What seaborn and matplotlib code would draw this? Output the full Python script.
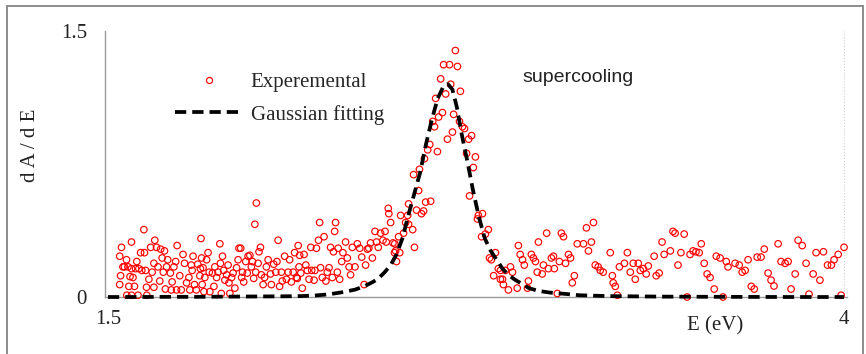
import matplotlib
matplotlib.use("Agg")
import matplotlib.pyplot as plt
from matplotlib.lines import Line2D
from matplotlib.patches import Rectangle
import seaborn as sns
import pandas as pd

# ---------------- data ----------------
exp_x_1 = [1.540, 1.546, 1.551, 1.543, 1.540, 1.563, 1.556, 1.568, 1.575, 1.571, 1.564, 1.580, 1.585, 1.590,
           1.580, 1.594, 1.598, 1.605, 1.611, 1.615, 1.622, 1.624, 1.628, 1.631, 1.602, 1.580, 1.632, 1.639,
           1.645, 1.650, 1.656, 1.659, 1.665, 1.656, 1.670, 1.676, 1.679, 1.684, 1.688, 1.692, 1.695, 1.699,
           1.703, 1.712, 1.718, 1.715, 1.724, 1.730, 1.735, 1.733, 1.744, 1.749, 1.755, 1.760, 1.767, 1.775,
           1.778, 1.783, 1.786, 1.789, 1.794, 1.800, 1.805, 1.812, 1.816, 1.814, 1.820]
exp_y_1 = [0.23, 0.28, 0.17, 0.12, 0.07, 0.21, 0.17, 0.17, 0.115, 0.06, 0.01, 0.31, 0.11, 0.06,
           0.16, 0.16, 0.20, 0.16, 0.25, 0.15, 0.38, 0.25, 0.15, 0.055, 0.01, 0.01, 0.01, 0.10,
           0.28, 0.14, 0.055, 0.32, 0.28, 0.19, 0.17, 0.09, 0.27, 0.22, 0.14, 0.26, 0.045, 0.17,
           0.21, 0.135, 0.085, 0.04, 0.17, 0.20, 0.29, 0.04, 0.12, 0.04, 0.24, 0.19, 0.08, 0.11,
           0.04, 0.18, 0.15, 0.23, 0.07, 0.04, 0.185, 0.12, 0.33, 0.16, 0.07]

exp_x_2 = [1.818, 1.823, 1.829, 1.826, 1.835, 1.840, 1.844, 1.846, 1.855, 1.860, 1.863, 1.869, 1.874, 1.880,
           1.882, 1.889, 1.885, 1.893, 1.897, 1.903, 1.908, 1.911, 1.914, 1.920, 1.925, 1.931, 1.937, 1.942,
           1.945, 1.951, 1.954, 1.957, 1.961, 1.968, 1.973, 1.976, 1.982, 1.987, 1.991, 1.995, 1.999, 2.004,
           2.002, 2.010, 2.013, 2.018, 2.021, 2.027, 2.032, 2.038, 2.044, 2.052, 2.055, 2.063, 2.070, 2.078,
           2.074, 2.083, 2.089, 2.092, 2.100, 2.106, 2.112, 2.117, 2.123, 2.129, 2.134, 2.140, 2.146, 2.149]
exp_y_2 = [0.22, 0.165, 0.11, 0.03, 0.21, 0.25, 0.14, 0.03, 0.135, 0.06, 0.17, 0.11, 0.14, 0.30,
           0.19, 0.23, 0.02, 0.15, 0.095, 0.125, 0.18, 0.08, 0.02, 0.11, 0.135, 0.05, 0.165, 0.21,
           0.275, 0.275, 0.11, 0.14, 0.085, 0.20, 0.135, 0.23, 0.235, 0.17, 0.20, 0.105, 0.41, 0.53,
           0.14, 0.19, 0.255, 0.28, 0.125, 0.07, 0.11, 0.17, 0.21, 0.13, 0.07, 0.185, 0.14, 0.32,
           0.20, 0.06, 0.14, 0.09, 0.23, 0.10, 0.14, 0.21, 0.085, 0.14, 0.25, 0.11, 0.29, 0.17]

exp_x_3 = [2.143, 2.151, 2.155, 2.160, 2.166, 2.172, 2.177, 2.183, 2.189, 2.192, 2.200, 2.203, 2.208, 2.215,
           2.219, 2.222, 2.228, 2.234, 2.240, 2.245, 2.251, 2.256, 2.262, 2.266, 2.270, 2.273, 2.279, 2.282,
           2.287, 2.294, 2.298, 2.307, 2.313, 2.319, 2.324, 2.330, 2.339, 2.347, 2.355, 2.362, 2.370, 2.375,
           2.381, 2.386, 2.392, 2.398, 2.407, 2.412, 2.418, 2.426, 2.434, 2.441, 2.445, 2.452, 2.454, 2.460,
           2.468, 2.473]
exp_y_3 = [0.105, 0.235, 0.135, 0.05, 0.24, 0.18, 0.15, 0.10, 0.28, 0.15, 0.095, 0.15, 0.275, 0.32,
           0.42, 0.165, 0.11, 0.34, 0.09, 0.14, 0.165, 0.28, 0.11, 0.255, 0.37, 0.42, 0.14, 0.275,
           0.10, 0.20, 0.25, 0.31, 0.22, 0.17, 0.125, 0.28, 0.17, 0.30, 0.275, 0.225, 0.07, 0.18,
           0.27, 0.275, 0.305, 0.22, 0.37, 0.31, 0.28, 0.36, 0.32, 0.37, 0.31, 0.50, 0.47, 0.42,
           0.305, 0.25]

exp_x_4 = [2.680, 2.640, 2.660, 2.687, 2.630, 2.664, 2.697, 2.647, 2.613, 2.636, 2.623, 2.674, 2.694, 2.603,
           2.609, 2.704, 2.711, 2.735, 2.670, 2.653, 2.725, 2.593, 2.586, 2.619, 2.718, 2.748, 2.575, 2.741,
           2.558, 2.538, 2.555, 2.728, 2.596, 2.579, 2.521, 2.548, 2.572, 2.565, 2.772, 2.758, 2.755, 2.494,
           2.518, 2.511, 2.521, 2.535, 2.792, 2.769, 2.782, 2.487, 2.504, 2.474, 2.541, 2.491, 2.477, 2.816,
           2.796, 2.802, 2.480, 2.826, 2.810, 2.833]
exp_y_4 = [1.39, 1.31, 1.31, 1.30, 1.23, 1.20, 1.16, 1.145, 1.12, 1.04, 1.015, 1.03, 0.99, 0.99,
           0.96, 0.96, 0.95, 0.91, 0.93, 0.89, 0.89, 0.86, 0.83, 0.82, 0.81, 0.79, 0.78, 0.73,
           0.72, 0.69, 0.60, 0.57, 0.54, 0.535, 0.525, 0.49, 0.485, 0.47, 0.47, 0.46, 0.44, 0.46,
           0.46, 0.42, 0.41, 0.38, 0.38, 0.34, 0.355, 0.34, 0.36, 0.30, 0.28, 0.25, 0.26, 0.25,
           0.22, 0.21, 0.20, 0.16, 0.12, 0.10]

exp_x_5 = [2.833, 2.850, 2.867, 2.874, 2.894, 2.900, 2.908, 2.914, 2.840, 2.843, 2.860, 2.890, 2.925, 2.928,
           2.938, 2.945, 2.952, 2.962, 2.958, 2.975, 2.979, 2.990, 2.996, 3.006, 3.013, 3.016, 3.026, 3.033,
           3.040, 3.047, 3.054, 3.064, 3.071, 3.077, 3.084, 3.094, 3.115, 3.125, 3.132, 3.142, 3.149, 3.155,
           3.165, 3.172, 3.182, 3.206, 3.213]
exp_y_5 = [0.15, 0.15, 0.17, 0.14, 0.29, 0.24, 0.21, 0.18, 0.10, 0.07, 0.04, 0.05, 0.05, 0.09,
           0.24, 0.22, 0.20, 0.31, 0.14, 0.13, 0.18, 0.36, 0.16, 0.22, 0.23, 0.16, 0.02, 0.20,
           0.36, 0.34, 0.19, 0.24, 0.22, 0.08, 0.12, 0.30, 0.30, 0.39, 0.26, 0.31, 0.42, 0.18,
           0.17, 0.15, 0.14, 0.25, 0.12]

exp_x_6 = [3.216, 3.223, 3.230, 3.237, 3.254, 3.264, 3.274, 3.284, 3.291, 3.301, 3.308, 3.318, 3.328, 3.335,
           3.355, 3.362, 3.372, 3.382, 3.389, 3.410, 3.419, 3.426, 3.436, 3.446, 3.457, 3.467, 3.477, 3.487,
           3.497, 3.508, 3.515, 3.525, 3.535, 3.545, 3.559, 3.566, 3.579, 3.589, 3.600, 3.606, 3.630, 3.644,
           3.654, 3.664, 3.674, 3.685, 3.695, 3.705, 3.718, 3.729, 3.742, 3.752, 3.762, 3.776, 3.786, 3.800,
           3.810, 3.820, 3.834, 3.844, 3.858, 3.871, 3.881, 3.895, 3.905, 3.918, 3.930, 3.944, 3.957, 3.966,
           3.980, 3.990, 4.000]
exp_y_6 = [0.08, 0.06, 0.01, 0.17, 0.19, 0.25, 0.14, 0.19, 0.10, 0.19, 0.15, 0.16, 0.13, 0.175,
           0.23, 0.12, 0.135, 0.31, 0.24, 0.26, 0.37, 0.36, 0.18, 0.25, 0.355, 0.0, 0.24, 0.26,
           0.255, 0.25, 0.30, 0.19, 0.13, 0.11, 0.045, 0.23, 0.22, 0.0, 0.20, 0.17, 0.19, 0.18,
           0.14, 0.15, 0.21, 0.06, 0.045, 0.225, 0.225, 0.27, 0.135, 0.095, 0.062, 0.30, 0.20, 0.19,
           0.20, 0.045, 0.13, 0.32, 0.29, 0.19, 0.016, 0.13, 0.25, 0.095, 0.255, 0.18, 0.18, 0.21,
           0.24, 0.01, 0.28]

fit_x = [1.50, 1.60, 1.70, 1.80, 1.90, 2.00, 2.10, 2.15, 2.20, 2.25, 2.30, 2.34, 2.37, 2.40, 2.42, 2.44,
         2.46, 2.48, 2.50, 2.52, 2.54, 2.56, 2.58, 2.60, 2.62, 2.64, 2.655, 2.67, 2.685, 2.70, 2.72, 2.74,
         2.76, 2.78, 2.80, 2.82, 2.84, 2.86, 2.88, 2.90, 2.93, 2.96, 3.00, 3.05, 3.10, 3.20, 3.40, 3.60,
         3.80, 4.00]
fit_y = [0.0, 0.0, 0.001, 0.001, 0.002, 0.003, 0.004, 0.005, 0.008, 0.015, 0.028, 0.042, 0.060, 0.085,
         0.107, 0.14, 0.18, 0.24, 0.33, 0.46, 0.58, 0.70, 0.86, 1.00, 1.12, 1.19, 1.20, 1.17, 1.07, 0.93,
         0.77, 0.60, 0.45, 0.33, 0.26, 0.21, 0.16, 0.125, 0.10, 0.08, 0.05, 0.035, 0.025, 0.018, 0.010,
         0.005, 0.002, 0.001, 0.0, 0.0]

x_ticks = [1.5, 2.5, 3.5, 4.0]
x_tick_labels = ["1.5", "", "", "4"]
y_ticks = [0.0, 1.5]
y_tick_labels = ["0", "1.5"]

# ---------------- build table ----------------
xs, ys = [], []
for a, b in [(exp_x_1, exp_y_1), (exp_x_2, exp_y_2), (exp_x_3, exp_y_3),
             (exp_x_4, exp_y_4), (exp_x_5, exp_y_5), (exp_x_6, exp_y_6)]:
    n = min(len(a), len(b))
    xs += a[:n]
    ys += b[:n]
exp_df = pd.DataFrame({"E": xs, "dAdE": ys})
fit_df = pd.DataFrame({"E": fit_x, "dAdE": fit_y})

sns.set_style("white")
plt.rcParams["font.family"] = ["Liberation Serif", "DejaVu Serif"]

W, H = 866, 354
fig = plt.figure(figsize=(W / 100, H / 100), dpi=100)
ax = fig.add_axes([105 / W, 1 - 297 / H, 742 / W, 266 / H])

sns.scatterplot(data=exp_df, x="E", y="dAdE", ax=ax, s=22, marker="o", legend=False, zorder=3)
pts = ax.collections[-1]
pts.set_facecolor("none")
pts.set_edgecolor("#ff0000")
pts.set_linewidth(0.85)
pts.set_clip_on(False)

sns.lineplot(data=fit_df, x="E", y="dAdE", ax=ax, color="black", linewidth=2.7, legend=False, zorder=4)
ln = ax.lines[-1]
ln.set_dashes([3.0, 1.6])
ln.set_clip_on(False)

ax.set_xlim(1.49, 4.01)
ax.set_ylim(0, 1.5)

grey = "#9a9a9a"
for s in ["top", "right"]:
    ax.spines[s].set_visible(False)
for s in ["left", "bottom"]:
    ax.spines[s].set_color(grey)
    ax.spines[s].set_linewidth(1.0)

ax.axvline(4.0, color="#d0d0d0", linestyle=":", linewidth=0.8, zorder=1)

FS = 15
ax.set_xticks(x_ticks)
ax.set_xticklabels(x_tick_labels)
ax.set_yticks(y_ticks)
ax.set_yticklabels(y_tick_labels)
ax.tick_params(axis="x", direction="inout", length=5, width=0.8, color=grey, pad=7,
               labelsize=FS, labelcolor="#222222")
ax.tick_params(axis="y", length=0, pad=13, labelsize=FS, labelcolor="#222222")
ax.set_xlabel("")
ax.set_ylabel("")

ax.text(0.822, -0.108, "E (eV)", transform=ax.transAxes, ha="center", va="center",
        fontsize=FS, color="#222222")
ax.text(-0.101, 0.571, "d A / d E", transform=ax.transAxes, ha="center", va="center",
        rotation=90, fontsize=FS, color="#222222")
ax.text(0.563, 0.827, "supercooling", transform=ax.transAxes, ha="left", va="center",
        fontsize=14, family=["Liberation Sans", "DejaVu Sans"], color="#222222")

h1 = Line2D([], [], marker="o", linestyle="none", markerfacecolor="none", markeredgecolor="#ff0000",
            markersize=4.4, markeredgewidth=0.85)
h2 = Line2D([], [], color="black", linewidth=2.7, dashes=[3.0, 1.6])
ax.legend([h1, h2], ["Experemental", "Gaussian fitting"], loc="upper left",
          bbox_to_anchor=(0.0943, 0.845), frameon=False, fontsize=FS, handlelength=3.3,
          handletextpad=0.33, labelspacing=0.62, borderpad=0, borderaxespad=0)

fig.add_artist(Rectangle((7 / W, -0.05), (863 - 7) / W, 1 - 6 / H + 0.05, transform=fig.transFigure,
                         fill=False, edgecolor="#8c8c8c", linewidth=1.4))

fig.savefig("out.png", dpi=100)
